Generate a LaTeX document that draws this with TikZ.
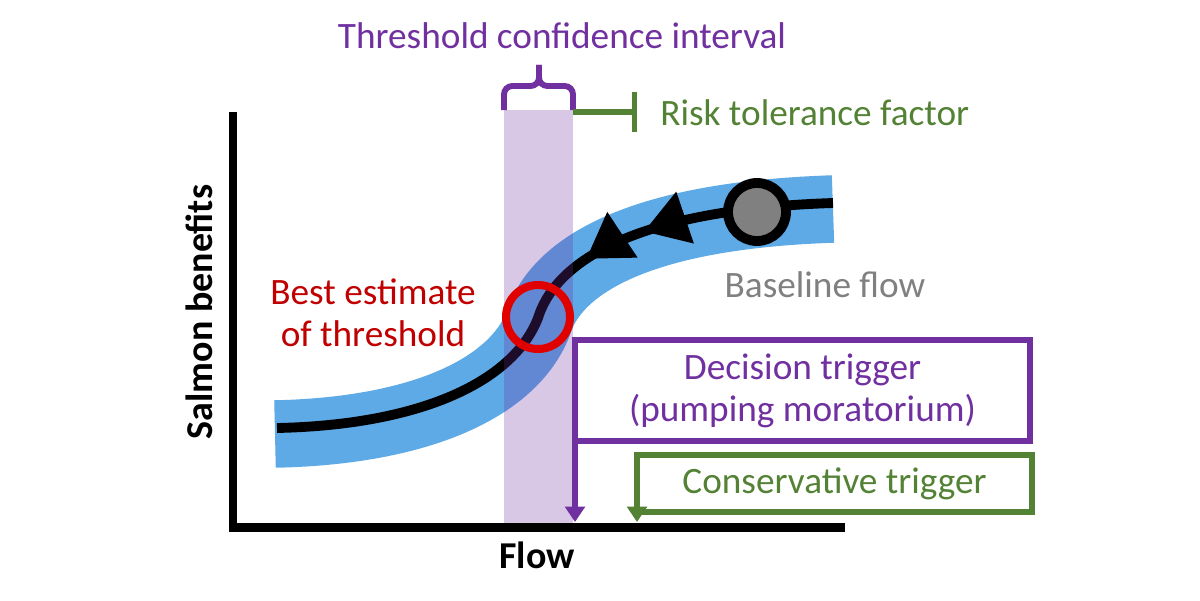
\documentclass[tikz,border=0pt]{standalone}
\usepackage{fontspec}
\setmainfont{Carlito}
\usetikzlibrary{arrows.meta,calc,decorations.markings}
\definecolor{cpur}{RGB}{112,48,160}
\definecolor{cgrn}{RGB}{84,130,53}
\definecolor{cband}{RGB}{94,170,230}
\definecolor{cthr}{RGB}{224,0,0}
\definecolor{cest}{RGB}{192,0,0}
\definecolor{cgry}{RGB}{128,128,128}
\tikzset{
  lbl/.style={font=\fontsize{26.5}{30}\selectfont, inner sep=0pt},
  axlbl/.style={font=\fontsize{27}{30}\selectfont\bfseries, inner sep=0pt},
  trig/.style={lbl, draw, line width=3.6pt, outer sep=0pt, align=center, anchor=north west},
  tip/.style={-{Triangle[length=11pt,width=14pt]}},
  flowtip/.style={decoration={markings,
    mark=at position -4.8cm with {\arrowreversed{Triangle[length=31pt,width=37pt]}},
    mark=at position -6.4cm with {\arrowreversed{Triangle[length=31pt,width=37pt]}}}}
}

\begin{document}
\begin{tikzpicture}[x=2.5cm,y=2.5cm]
\useasboundingbox (-2.33,-0.73) rectangle (9.67,5.27);
% benefit curve and its band
\draw[cband, line width=48pt] (0.42,0.93) .. controls (1.87,0.96) and (2.80,1.39) .. (3.05,2.03) .. controls (3.20,2.52) and (3.87,3.11) .. (6.00,3.18);
\draw[line width=7pt, flowtip, postaction={decorate}] (0.44,0.99) .. controls (1.87,1.02) and (2.80,1.45) .. (3.05,2.09) .. controls (3.20,2.58) and (3.87,3.17) .. (6.00,3.24);
\node[circle, draw, fill=cgry, line width=7pt, minimum size=1.45cm, inner sep=0pt] (base) at (5.24,3.15) {};
% confidence interval
\coordinate (ciSW) at (2.71,0);
\coordinate (ciNE) at (3.40,4.17);
\fill[cpur, opacity=.27] (ciSW) rectangle (ciNE);
\draw[cpur, line width=4.2pt, rounded corners=6pt] (ciSW |- ciNE) -- ++(0,0.24) -- (3.06,4.41) -- (3.06,4.62);
\draw[cpur, line width=4.2pt, rounded corners=6pt] (ciNE) -- ++(0,0.24) -- (3.06,4.41) -- (3.06,4.62);
\node[circle, draw=cthr, line width=5.7pt, minimum size=1.6cm, inner sep=0pt] (thr) at (3.05,2.10) {};
% axes
\coordinate (O) at (0,0);
\coordinate (xtop) at (0,0.05);
\draw[line width=6.4pt] (0,4.15) -- (O) -- (6.12,0);
\node[axlbl, rotate=90] (ylab) at (-0.34,2.15) {Salmon benefits};
\node[axlbl] (xlab) at (3.04,-0.28) {Flow};
% labels
\node[lbl, text=cpur] (cilab) at (3.29,4.91) {Threshold confidence interval};
\coordinate (risk) at (4.04,4.15);
\draw[cgrn, line width=3.6pt, -{Bar[width=28pt]}] (ciNE |- risk) -- (risk);
\node[lbl, text=cgrn, anchor=west] (risklab) at (4.27,4.14) {Risk tolerance factor};
\node[lbl, text=cest, align=center] (estlab) at (1.40,2.14) {Best estimate\\of threshold};
\node[lbl, text=cgry] (baselab) at (5.92,2.42) {Baseline flow};
% triggers
\node[trig, draw=cpur, text=cpur, minimum width=11.375cm, minimum height=2.525cm] (dec) at (3.42,1.87) {Decision trigger\\(pumping moratorium)};
\node[trig, draw=cgrn, text=cgrn, minimum width=9.875cm, minimum height=1.425cm] (cons) at (4.04,0.72) {Conservative trigger};
\draw[cpur, line width=3.6pt, tip] (dec.north west) -- (dec.north west |- xtop);
\draw[cgrn, line width=3.6pt, tip] (cons.north west) -- (cons.north west |- xtop);
\end{tikzpicture}
\end{document}
